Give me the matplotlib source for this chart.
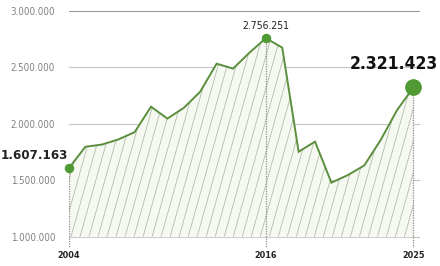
import matplotlib
matplotlib.use("Agg")
import matplotlib.pyplot as plt
from matplotlib import font_manager
import numpy as np

years = list(range(2004, 2026))
values = [1607163, 1796000, 1815000, 1860000, 1925000, 2150000, 2045000,
          2140000, 2283000, 2531000, 2487000, 2628000, 2756251, 2673000,
          1752000, 1841000, 1478000, 1545000, 1630000, 1855000, 2120000,
          2321423]
yticks = [1000000, 1500000, 2000000, 2500000, 3000000]
ytick_labels = ["1.000.000", "1.500.000", "2.000.000", "2.500.000", "3.000.000"]
xticks = [2004, 2016, 2025]
labeled = {2004: "1.607.163", 2016: "2.756.251", 2025: "2.321.423"}

names = {f.name for f in font_manager.fontManager.ttflist}
fams = [n for n in ["Liberation Sans Narrow", "DejaVu Sans Condensed"] if n in names]
plt.rcParams['font.family'] = fams + ['DejaVu Sans']
cond = 'condensed'

green = "#5b8f3e"
fig = plt.figure(figsize=(4.4, 2.66), dpi=100)
ax = fig.add_axes([69 / 440, 1 - 248 / 266, (420 - 69) / 440, (248 - 5) / 266])
ax.set_xlim(2004, 2025.4)
ax.set_ylim(900000, 3050000)
for s in ax.spines.values():
    s.set_visible(False)

# grid lines
for v in yticks:
    ax.axhline(v, color="#c4c4c4" if v < 3000000 else "#9a9a9a", lw=0.8, zorder=0)
ax.set_yticks(yticks)
ax.set_yticklabels(ytick_labels, fontsize=7, color="#808080", fontstretch=cond)
ax.tick_params(axis="y", length=0, pad=10)
ax.set_xticks(xticks)
ax.set_xticklabels([str(x) for x in xticks], fontsize=6.5, fontweight="bold",
                   color="#222222", fontstretch=cond)
ax.tick_params(axis="x", length=0, pad=2)

# fill with steep hatching
poly = ax.fill_between(years, values, 1000000, color="#f6f9f1", lw=0, zorder=1)
px_x = 1 / 16.38
clip = poly.get_paths()[0]
for off in np.arange(-70, 360, 9):
    x0 = 2004 + off * px_x
    x1 = x0 + 0.28 * 226 * px_x
    ln, = ax.plot([x0, x1], [1000000, 3000000], color="#b5bcae", lw=0.6, zorder=2)
    ln.set_clip_path(clip, ax.transData)

ax.plot(years, values, color=green, lw=1.4, zorder=4, solid_joinstyle="miter")

for yr in xticks:
    v = values[years.index(yr)]
    ax.plot([yr, yr], [v, 900000], color="#8a8a8a", lw=0.9, ls=(0, (1, 1)), zorder=3)
    size = 11 if yr == 2025 else 5.8
    ax.plot(yr, v, "o", ms=size, color="#4f9a32", mec="#4f9a32", zorder=5, clip_on=False)

ax.text(2004 - 0.05, 1607163 + 55000, labeled[2004], fontsize=9.5, fontweight="bold",
        color="#222222", ha="right", va="bottom", fontstretch=cond)
ax.text(2016, 2756251 + 60000, labeled[2016], fontsize=7.5,
        color="#222222", ha="center", va="bottom", fontstretch=cond)
ax.text(2026.5, 2321423 + 130000, labeled[2025], fontsize=12.5, fontweight="bold",
        color="#111111", ha="right", va="bottom", fontstretch=cond)

fig.savefig("out.png", dpi=100)
